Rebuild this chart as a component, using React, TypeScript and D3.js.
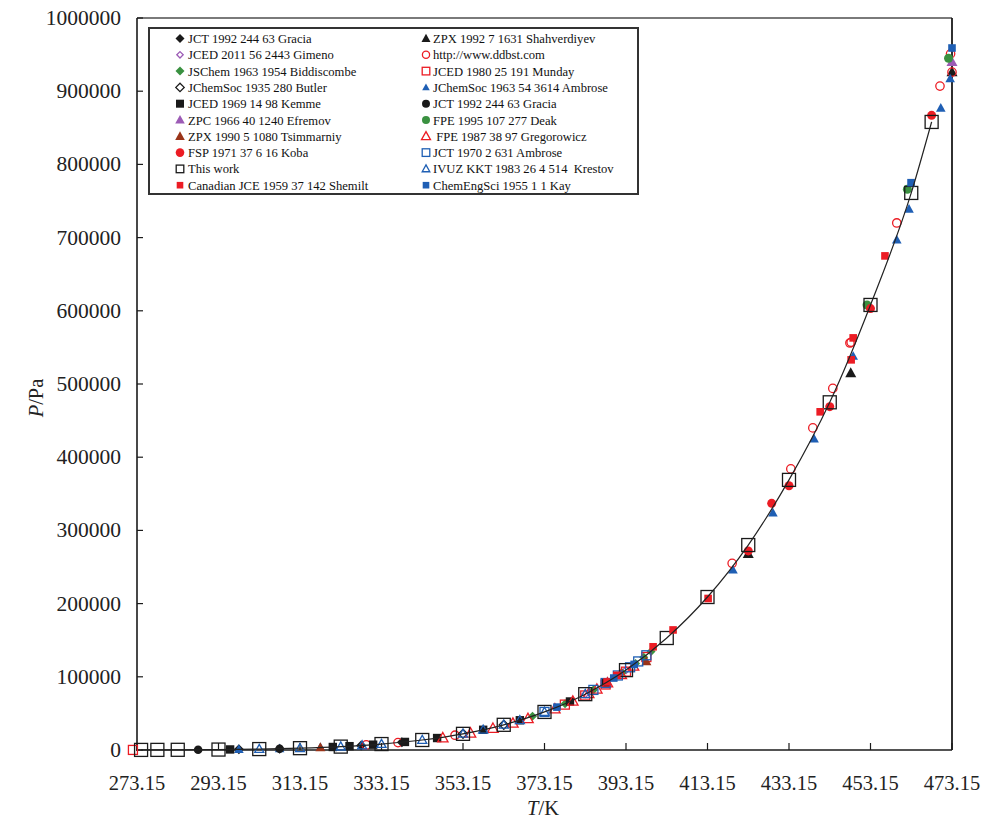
import React from "react";
import * as d3 from "d3";

// ---- data (T in K, P in Pa) ----
const thisWorkT = [274.15, 278.15, 283.15, 293.15, 303.15, 313.15, 323.15, 333.15, 343.15, 353.15, 363.15, 373.15, 383.15, 393.15, 403.15, 413.15, 423.15, 433.15, 443.15, 453.15, 463.15, 468.15];
const thisWorkP = [120, 170, 270, 600, 1270, 2500, 4620, 8130, 13670, 22080, 34410, 52000, 76280, 109130, 153000, 209000, 280000, 369000, 475000, 608000, 761000, 858000];

const graciaDiamond: [number, number][] = [[298.15, 885], [308.15, 1800], [328.15, 6170], [338.15, 10600]];
const shahverdiyev: [number, number][] = [[423.15, 268000], [448.3, 515000], [473.15, 926000]];
const gimeno: [number, number][] = [[383.15, 76280], [388.15, 91520], [393.15, 109130]];
const ddbst: [number, number][] = [[329.4, 7000], [337.2, 10100], [351.2, 20200], [419.2, 255000], [433.6, 384000], [439.0, 440000], [443.9, 494000], [448.1, 556000], [448.4, 557000], [459.6, 720000], [470.2, 907000], [472.8, 951000], [473.15, 926000]];
const biddiscombe: [number, number][] = [[370.2, 46200], [378.2, 63300], [385.2, 82300], [392.2, 105600], [395.5, 118300], [397.5, 126600], [399.3, 134500]];
const munday: [number, number][] = [[272.15, 100], [378.15, 62000], [383.15, 74500], [388.15, 89500], [393.15, 107000], [398.15, 127000]];
const butler: [number, number][] = [[353.15, 22100], [363.15, 34400]];
const ambrose1963: [number, number][] = [[298.15, 885], [308.15, 1800], [318.15, 3420], [419.4, 246000], [429.2, 324000], [439.3, 425000], [448.9, 538000], [459.6, 697000], [462.6, 739000], [470.4, 877000], [472.7, 917000]];
const kemme: [number, number][] = [[296.0, 753], [321.2, 4118], [325.3, 5242], [331.1, 7271], [338.9, 11020], [346.8, 16350], [358.1, 27620], [367.1, 40640], [379.4, 66290], [388.2, 91700]];
const graciaCircle: [number, number][] = [[288.15, 405], [308.15, 1800]];
const efremov: [number, number][] = [[473.15, 940000]];
const deak: [number, number][] = [[452.3, 608000], [462.2, 766000], [472.3, 945000]];
const tsimmarniy: [number, number][] = [[318.15, 3420], [398.15, 121000]];
const gregorowicz: [number, number][] = [[348.2, 16500], [355.0, 23000], [360.5, 29500], [365.4, 36500], [369.1, 42800], [375.7, 56000], [380.1, 66500], [384.0, 77000], [386.0, 83000], [388.6, 91500], [392.0, 103000], [395.0, 114500]];
const koba: [number, number][] = [[423.15, 272000], [428.9, 337000], [433.15, 361000], [443.15, 469000], [453.15, 603000], [468.15, 867000]];
const ambrose1970: [number, number][] = [[373.15, 52000], [385.15, 82100], [388.15, 91500], [391.15, 101800], [394.15, 113000], [396.15, 121000], [398.15, 129400]];
const krestov: [number, number][] = [[303.15, 1272], [313.15, 2496], [323.15, 4623], [328.4, 6256], [333.15, 8130], [343.15, 13670], [353.15, 22080], [358.1, 27620], [363.15, 34410], [367.1, 40640], [373.15, 52000], [383.15, 76280]];
const shemilt: [number, number][] = [[388.5, 93000], [390.9, 102000], [399.8, 141000], [404.7, 164000], [413.3, 207000], [440.8, 462000], [448.4, 533000], [448.9, 563000], [456.7, 675000]];
const kay: [number, number][] = [[376.2, 58600], [390.15, 98300], [395.15, 116900], [463.1, 775000], [473.15, 959000]];

const xTicks = [273.15, 293.15, 313.15, 333.15, 353.15, 373.15, 393.15, 413.15, 433.15, 453.15, 473.15];
const yTicks = [0, 100000, 200000, 300000, 400000, 500000, 600000, 700000, 800000, 900000, 1000000];

const thisWork: [number, number][] = thisWorkT.map((t, i) => [t, thisWorkP[i]]);

// ---- styles ----
const BLACK = "#1a1a1a";
const PURPLE = "#9c5bb5";
const GREEN = "#3a9140";
const RED = "#ec1c24";
const BLUE = "#1f5fb4";
const BROWN = "#9a3418";

type Kind = "diamond" | "diamondOpen" | "square" | "squareOpen" | "triangle" | "triangleOpen" | "circle" | "circleOpen";

interface Series {
  name: string;
  data: [number, number][];
  kind: Kind;
  color: string;
  size: number;
  legendSize: number;
}

// legend order, row by row (left, right)
const seriesList: Series[] = [
  { name: "JCT 1992 244 63 Gracia", data: graciaDiamond, kind: "diamond", color: BLACK, size: 5, legendSize: 4.5 },
  { name: "ZPX 1992 7 1631 Shahverdiyev", data: shahverdiyev, kind: "triangle", color: BLACK, size: 5.5, legendSize: 4.5 },
  { name: "JCED 2011 56 2443 Gimeno", data: gimeno, kind: "diamondOpen", color: PURPLE, size: 3.5, legendSize: 3.2 },
  { name: "http://www.ddbst.com", data: ddbst, kind: "circleOpen", color: RED, size: 4.2, legendSize: 3.6 },
  { name: "JSChem 1963 1954 Biddiscombe", data: biddiscombe, kind: "diamond", color: GREEN, size: 4.5, legendSize: 4.5 },
  { name: "JCED 1980 25 191 Munday", data: munday, kind: "squareOpen", color: RED, size: 4.5, legendSize: 3.8 },
  { name: "JChemSoc 1935 280 Butler", data: butler, kind: "diamondOpen", color: BLACK, size: 4.5, legendSize: 4.2 },
  { name: "JChemSoc 1963 54 3614 Ambrose", data: ambrose1963, kind: "triangle", color: BLUE, size: 4.8, legendSize: 3.8 },
  { name: "JCED 1969 14 98 Kemme", data: kemme, kind: "square", color: BLACK, size: 4.2, legendSize: 4 },
  { name: "JCT 1992 244 63 Gracia", data: graciaCircle, kind: "circle", color: BLACK, size: 4.3, legendSize: 4 },
  { name: "ZPC 1966 40 1240 Efremov", data: efremov, kind: "triangle", color: PURPLE, size: 5.5, legendSize: 4.8 },
  { name: "FPE 1995 107 277 Deak", data: deak, kind: "circle", color: GREEN, size: 4.5, legendSize: 4 },
  { name: "ZPX 1990 5 1080 Tsimmarniy", data: tsimmarniy, kind: "triangle", color: BROWN, size: 5, legendSize: 4.8 },
  { name: " FPE 1987 38 97 Gregorowicz", data: gregorowicz, kind: "triangleOpen", color: RED, size: 5.2, legendSize: 4.5 },
  { name: "FSP 1971 37 6 16 Koba", data: koba, kind: "circle", color: RED, size: 4.5, legendSize: 4.3 },
  { name: "JCT 1970 2 631 Ambrose", data: ambrose1970, kind: "squareOpen", color: BLUE, size: 4.5, legendSize: 3.8 },
  { name: "This work", data: thisWork, kind: "squareOpen", color: BLACK, size: 6.5, legendSize: 3.8 },
  { name: "IVUZ KKT 1983 26 4 514  Krestov", data: krestov, kind: "triangleOpen", color: BLUE, size: 4.5, legendSize: 3.8 },
  { name: "Canadian JCE 1959 37 142 Shemilt", data: shemilt, kind: "square", color: RED, size: 3.8, legendSize: 3.3 },
  { name: "ChemEngSci 1955 1 1 Kay", data: kay, kind: "square", color: BLUE, size: 3.8, legendSize: 3.3 },
];

const FONT = "'Liberation Serif', 'Times New Roman', serif";

const x = d3.scaleLinear().domain([273.15, 473.15]).range([137, 952]);
const y = d3.scaleLinear().domain([0, 1000000]).range([750, 18]);

function Marker({ kind, color, s, cx, cy }: { kind: Kind; color: string; s: number; cx: number; cy: number }) {
  const filled = !kind.endsWith("Open");
  const fill = filled ? color : "none";
  const stroke = filled ? "none" : color;
  const sw = 1.3;
  const base = kind.replace("Open", "");
  if (base === "circle") return <circle cx={cx} cy={cy} r={s} fill={fill} stroke={stroke} strokeWidth={sw} />;
  if (base === "square") return <rect x={cx - s} y={cy - s} width={2 * s} height={2 * s} fill={fill} stroke={stroke} strokeWidth={sw} />;
  if (base === "diamond")
    return <path d={`M${cx},${cy - s}L${cx + s},${cy}L${cx},${cy + s}L${cx - s},${cy}Z`} fill={fill} stroke={stroke} strokeWidth={sw} />;
  return (
    <path
      d={`M${cx},${cy - s * 1.05}L${cx + s},${cy + s * 0.75}L${cx - s},${cy + s * 0.75}Z`}
      fill={fill}
      stroke={stroke}
      strokeWidth={sw}
    />
  );
}

export default function App() {
  const line = d3
    .line<[number, number]>()
    .x((d) => x(d[0]))
    .y((d) => y(d[1]))
    .curve(d3.curveMonotoneX);

  const legendX0 = 149;
  const legendY0 = 28;
  const rowH = 16.3;

  return (
    <svg
      width={984}
      height={819}
      style={{ position: "absolute", left: 0, top: 0, background: "#fff" }}
      fontFamily={FONT}
    >
      <rect x={0} y={0} width={984} height={819} fill="#fff" />
      {/* frame */}
      <line x1={137} y1={18} x2={952} y2={18} stroke="#7a7a7a" strokeWidth={2} />
      <line x1={952} y1={18} x2={952} y2={750} stroke={BLACK} strokeWidth={1.8} />
      <line x1={137} y1={18} x2={137} y2={751} stroke={BLACK} strokeWidth={1.6} />
      <line x1={136} y1={750} x2={952} y2={750} stroke={BLACK} strokeWidth={1.6} />

      {/* ticks */}
      {xTicks.map((t) => (
        <g key={"xt" + t}>
          <line x1={x(t)} x2={x(t)} y1={750} y2={743} stroke={BLACK} strokeWidth={1.2} />
          <text x={x(t)} y={790} textAnchor="middle" fontSize={20.5} fill="#222">
            {t.toFixed(2)}
          </text>
        </g>
      ))}
      {yTicks.map((v) => (
        <g key={"yt" + v}>
          <line x1={137} x2={143} y1={y(v)} y2={y(v)} stroke={BLACK} strokeWidth={1.2} />
          <text x={121} y={y(v) + 7} textAnchor="end" fontSize={21.5} fill="#222">
            {String(v)}
          </text>
        </g>
      ))}

      {/* axis titles */}
      <text x={543} y={815} textAnchor="middle" fontSize={20.5} fill="#222">
        <tspan fontStyle="italic">T</tspan>
        <tspan>/K</tspan>
      </text>
      <text transform="translate(43,398) rotate(-90)" textAnchor="middle" fontSize={20.5} fill="#222">
        <tspan fontStyle="italic">P</tspan>
        <tspan>/Pa</tspan>
      </text>

      {/* markers */}
      {seriesList.map((s, si) => (
        <g key={"s" + si}>
          {s.data.map((d, i) => (
            <Marker key={i} kind={s.kind} color={s.color} s={s.size} cx={x(d[0])} cy={y(d[1])} />
          ))}
        </g>
      ))}

      {/* fitted curve */}
      <path d={line(thisWork) || ""} fill="none" stroke="#222" strokeWidth={1.2} />

      {/* legend */}
      <rect x={legendX0} y={legendY0} width={489} height={166} fill="#fff" stroke="#333" strokeWidth={2} />
      {seriesList.map((s, i) => {
        const col = i % 2;
        const row = Math.floor(i / 2);
        const mx = col === 0 ? 180 : 426;
        const tx = col === 0 ? 188 : 433;
        const cy = 38.5 + row * rowH;
        return (
          <g key={"lg" + i}>
            <Marker kind={s.kind} color={s.color} s={s.legendSize} cx={mx} cy={cy} />
            <text x={tx} y={cy + 4.5} fontSize={12.6} fill="#111" style={{ whiteSpace: "pre" }}>
              {s.name}
            </text>
          </g>
        );
      })}
    </svg>
  );
}
